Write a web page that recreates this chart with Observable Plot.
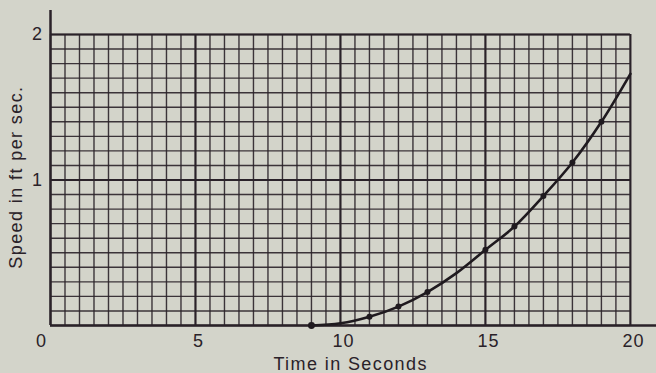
<!DOCTYPE html>
<html>
<head>
<meta charset="utf-8">
<script src="https://cdn.jsdelivr.net/npm/d3@7"></script>
<script src="https://cdn.jsdelivr.net/npm/@observablehq/plot@0.6"></script>
<style>
  html, body { margin: 0; padding: 0; background: #d3d4ca; }
  #chart svg { display: block; }
</style>
</head>
<body>
<div id="chart"></div>
<script>
// Curve (time in s, speed in ft/s)
const curveTime  = [9, 10, 11, 12, 13, 14, 15, 16, 17, 18, 19, 20];
const curveSpeed = [0, 0.015, 0.06, 0.13, 0.23, 0.36, 0.52, 0.68, 0.89, 1.12, 1.40, 1.73];
// Plotted points (dots)
const dotTime  = [9, 11, 12, 13, 15, 16, 17, 18, 19];
const dotSpeed = [0, 0.06, 0.13, 0.23, 0.52, 0.68, 0.89, 1.12, 1.40];
// Tick labels
const xTicks = [5, 10, 15, 20];
const xZero = [0];
const yTicks = [1, 2];
const xMinor = d3.range(0, 20.001, 0.5);
const yMinor = d3.range(0, 2.001, 0.1).map(v => +v.toFixed(2));

const curve = curveTime.map((t, i) => ({t, v: curveSpeed[i]}));
const dots = dotTime.map((t, i) => ({t, v: dotSpeed[i]}));

const ink = "#2a2229";
const font = "'Liberation Sans', Arial, sans-serif";

const chart = Plot.plot({
  width: 656,
  height: 373,
  marginLeft: 50,
  marginRight: 0,
  marginTop: 10,
  marginBottom: 48,
  style: {background: "#d3d4ca", fontFamily: font, color: ink},
  x: {domain: [0, 20.9], axis: null},
  y: {domain: [0, 2.165], axis: null},
  marks: [
    // minor grid
    Plot.ruleX(xMinor, {y1: 0, y2: 2, stroke: ink, strokeWidth: 1.4, strokeOpacity: 0.9}),
    Plot.ruleY(yMinor, {x1: 0, x2: 20, stroke: ink, strokeWidth: 1.4, strokeOpacity: 0.9}),
    // major grid
    Plot.ruleX([5, 10, 15, 20], {y1: 0, y2: 2, stroke: ink, strokeWidth: 2}),
    Plot.ruleY([1, 2], {x1: 0, x2: 20, stroke: ink, strokeWidth: 2}),
    // axes
    Plot.ruleX([0], {y1: 0, y2: 2.165, stroke: ink, strokeWidth: 2.5}),
    Plot.ruleY([0], {x1: 0, x2: 20.9, stroke: ink, strokeWidth: 2.5}),
    // curve
    Plot.line(curve, {x: "t", y: "v", curve: "catmull-rom", stroke: "#1f1a1f", strokeWidth: 2.6}),
    Plot.dot(dots, {x: "t", y: "v", r: d => d.t === 9 ? 3.5 : 2.6, fill: "#1f1a1f", stroke: null}),
    // tick labels
    Plot.text(xTicks, {x: d => d, y: 0, text: d => String(d), dy: 16, dx: 3, fontSize: 18, fill: ink, textAnchor: "middle", className: "tick"}),
    Plot.text(xZero, {x: d => d, y: 0, text: d => String(d), dy: 16, dx: -9, fontSize: 18, fill: ink, textAnchor: "middle", className: "tick"}),
    Plot.text(yTicks, {x: 0, y: d => d, text: d => String(d), dx: -13, fontSize: 18, fill: ink, textAnchor: "middle", className: "tick"}),
    // axis titles
    Plot.text(["Time in Seconds"], {x: 10.35, y: 0, text: d => d, dy: 39, fontSize: 18, fill: ink, textAnchor: "middle", fontWeight: 500, className: "title"}),
    Plot.text(["Speed in ft per sec."], {x: 0, y: 1.02, text: d => d, dx: -34, rotate: -90, fontSize: 18, fill: ink, textAnchor: "middle", fontWeight: 500, className: "title"})
  ]
});
chart.querySelectorAll("g.tick text").forEach(t => t.style.letterSpacing = "1px");
chart.querySelectorAll("g.title text").forEach(t => t.style.letterSpacing = "1.4px");
document.getElementById("chart").appendChild(chart);
</script>
</body>
</html>
